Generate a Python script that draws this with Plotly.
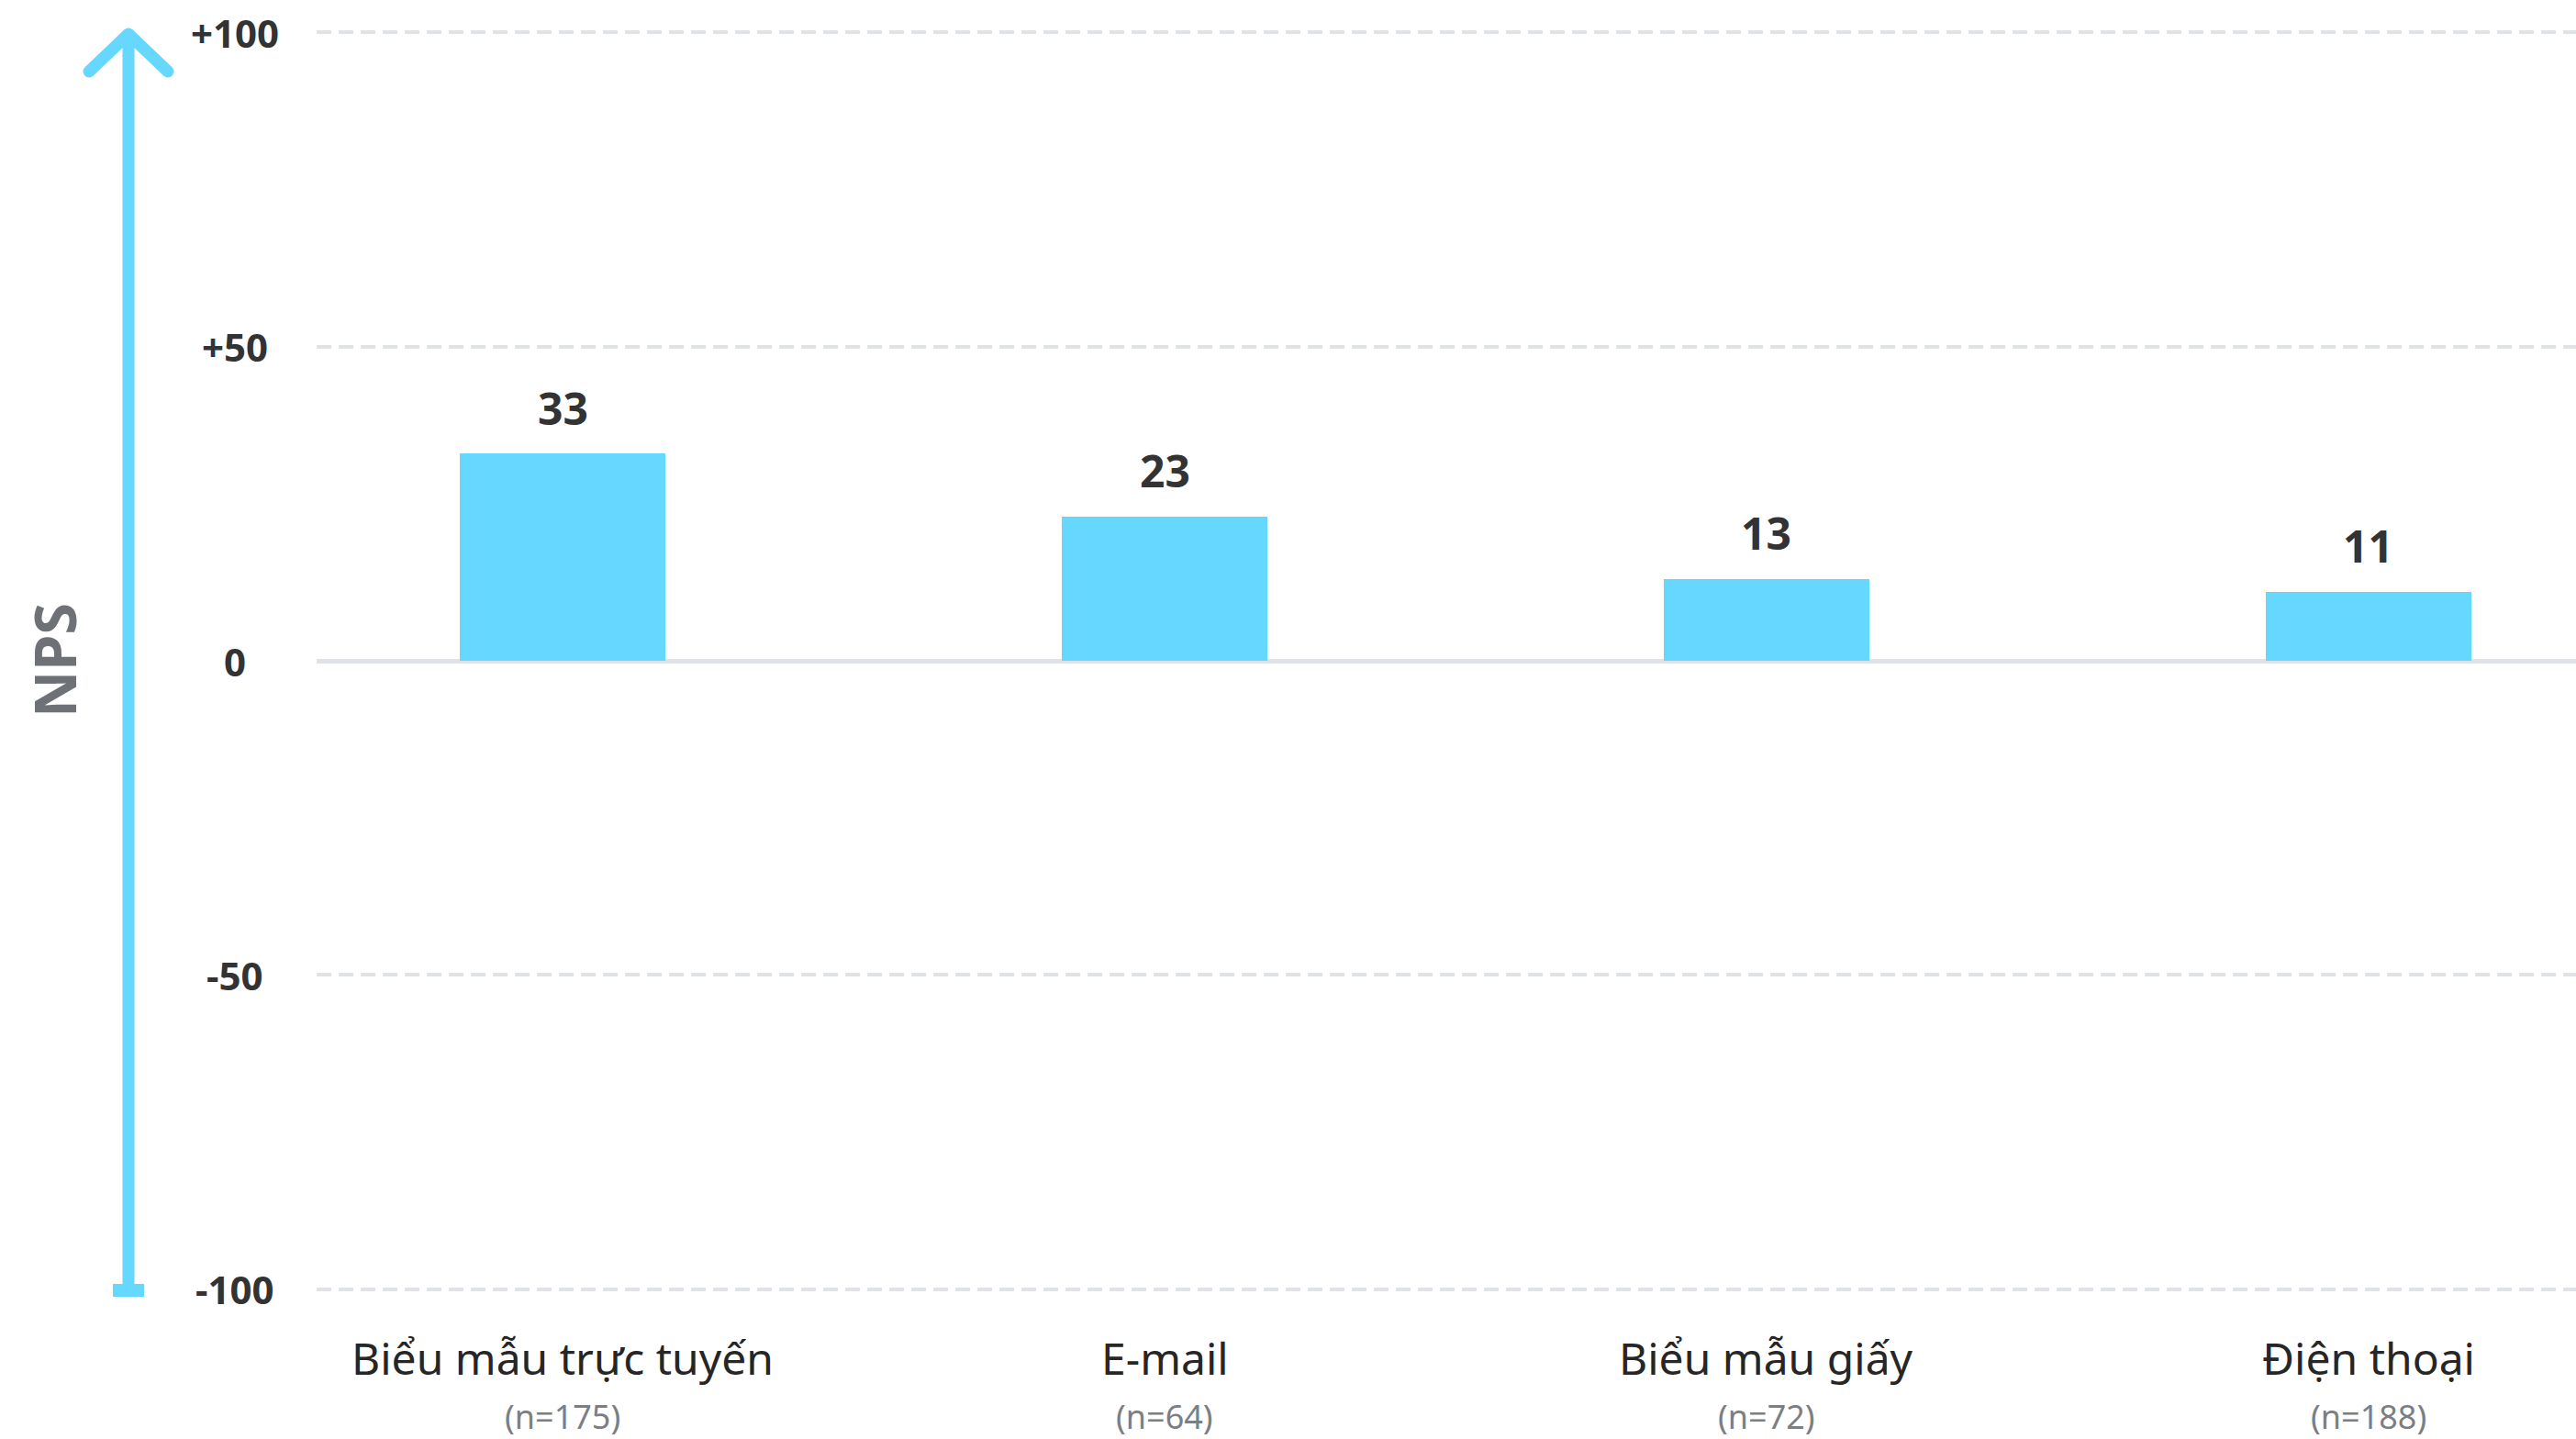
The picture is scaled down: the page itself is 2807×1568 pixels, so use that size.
import plotly.graph_objects as go

# --- data -------------------------------------------------------------------
categories = ["Biểu mẫu trực tuyến", "E-mail", "Biểu mẫu giấy", "Điện thoại"]
sample_sizes = [175, 64, 72, 188]
nps_values = [33, 23, 13, 11]
y_ticks = [100, 50, 0, -50, -100]
y_tick_labels = ["+100", "+50", "0", "-50", "-100"]
axis_title = "NPS"

# --- styling / geometry ------------------------------------------------------
W, H = 2807, 1568
ML, MT, MB = 345, 1, 129
PLOT_W = W - ML
PLOT_H = H - MT - MB
Y_MIN, Y_MAX = -105, 105
PX_PER_UNIT = PLOT_H / (Y_MAX - Y_MIN)
ZERO_PX = MT + Y_MAX * PX_PER_UNIT

BLUE = "#66D7FF"
GRID = "#DFE2E7"
DARK = "#262626"
GREY_TXT = "#7B7E82"
FONT = "Noto Sans"


def px_x(px):
    """Horizontal pixel -> paper coordinate."""
    return (px - ML) / PLOT_W


def px_y(px):
    """Vertical pixel -> y data value."""
    return (ZERO_PX - px) / PX_PER_UNIT


def px_py(px):
    """Vertical pixel -> paper coordinate."""
    return (MT + PLOT_H - px) / PLOT_H


x_pos = list(range(len(categories)))

fig = go.Figure(
    go.Bar(
        x=x_pos,
        y=nps_values,
        width=0.342,
        marker=dict(color=BLUE, line=dict(width=0)),
        hoverinfo="skip",
    )
)

annotations = []

# y tick labels, centred in the left gutter
for v, lab in zip(y_ticks, y_tick_labels):
    annotations.append(dict(
        x=px_x(256), y=v, xref="paper", yref="y", text=lab, showarrow=False,
        xanchor="center", yanchor="middle",
        font=dict(family=FONT, size=42, color="#333333", weight="bold"),
    ))

# value labels above bars
for i, v in zip(x_pos, nps_values):
    annotations.append(dict(
        x=i, y=v, xref="x", yref="y", text=str(v), showarrow=False,
        xanchor="center", yanchor="middle", yshift=50,
        font=dict(family=FONT, size=48, color="#333333", weight="bold"),
    ))

# category names and sample sizes
for i, (cat, n) in enumerate(zip(categories, sample_sizes)):
    annotations.append(dict(
        x=i, y=px_py(1479), xref="x", yref="paper", text=cat, showarrow=False,
        xanchor="center", yanchor="middle",
        font=dict(family=FONT, size=48, color=DARK),
    ))
    annotations.append(dict(
        x=i, y=px_py(1543), xref="x", yref="paper", text=f"(n={n})", showarrow=False,
        xanchor="center", yanchor="middle",
        font=dict(family=FONT, size=36, color=GREY_TXT),
    ))

# rotated axis title
annotations.append(dict(
    x=px_x(58), y=0, xref="paper", yref="y", text=axis_title, showarrow=False,
    textangle=-90, xanchor="center", yanchor="middle",
    font=dict(family=FONT, size=63, color="#6E7176", weight="bold"),
))

# --- upward arrow along the left side ----------------------------------------
AX = 140
TIP = 37
WING_X = 43
WING_Y = 78
LW = 13
shapes = [
    dict(type="line", xref="paper", yref="y",
         x0=px_x(AX), x1=px_x(AX), y0=px_y(TIP), y1=px_y(1406),
         line=dict(color=BLUE, width=LW)),
    dict(type="line", xref="paper", yref="y",
         x0=px_x(AX - WING_X), y0=px_y(WING_Y), x1=px_x(AX), y1=px_y(TIP),
         line=dict(color=BLUE, width=LW)),
    dict(type="line", xref="paper", yref="y",
         x0=px_x(AX), y0=px_y(TIP), x1=px_x(AX + WING_X), y1=px_y(WING_Y),
         line=dict(color=BLUE, width=LW)),
    dict(type="rect", xref="paper", yref="y",
         x0=px_x(123), x1=px_x(157), y0=px_y(1413), y1=px_y(1399),
         fillcolor=BLUE, line=dict(width=0)),
]
for cx, cy in [(AX, TIP), (AX - WING_X, WING_Y), (AX + WING_X, WING_Y)]:
    shapes.append(dict(
        type="circle", xref="paper", yref="y",
        xsizemode="pixel", ysizemode="pixel",
        xanchor=px_x(cx), yanchor=px_y(cy),
        x0=-LW / 2, x1=LW / 2, y0=-LW / 2, y1=LW / 2,
        fillcolor=BLUE, line=dict(width=0),
    ))

fig.update_layout(
    width=W, height=H,
    margin=dict(l=ML, r=0, t=MT, b=MB, pad=0),
    paper_bgcolor="white", plot_bgcolor="white",
    showlegend=False,
    bargap=0,
    annotations=annotations,
    shapes=shapes,
    font=dict(family=FONT),
    xaxis=dict(range=[-0.409, 3.345], showticklabels=False, showgrid=False,
               zeroline=False, showline=False, ticks="", fixedrange=True),
    yaxis=dict(range=[Y_MIN, Y_MAX], tickvals=y_ticks, showticklabels=False,
               showgrid=True, gridcolor=GRID, gridwidth=4, griddash="16px,8px",
               zeroline=True, zerolinecolor=GRID, zerolinewidth=5,
               showline=False, ticks="", fixedrange=True),
)

fig.write_html("out.html")
